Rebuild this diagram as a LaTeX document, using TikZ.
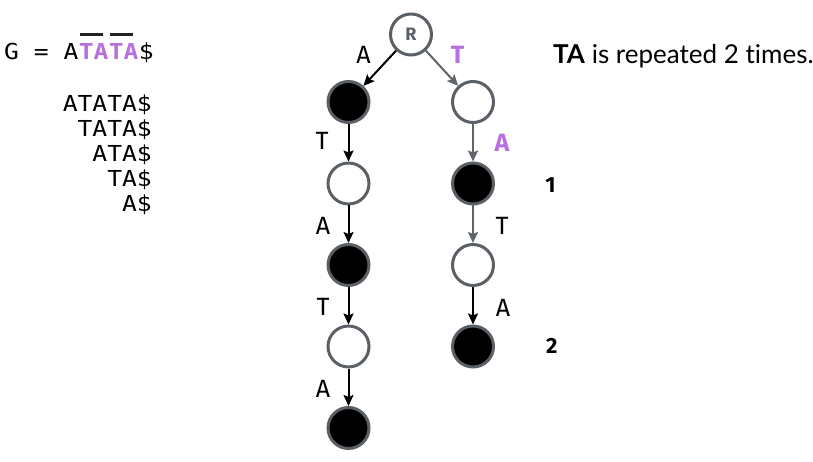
\documentclass[tikz,border=0pt]{standalone}
\usepackage{fontspec}
\setmainfont[Ligatures={NoCommon}]{Lato}
\newfontfamily\monofont[FakeStretch=1.12]{DejaVu Sans Mono}
\newfontfamily\labfont{Fira Sans}
\usetikzlibrary{arrows.meta}
\definecolor{purp}{HTML}{B86FE0}
\definecolor{ring}{HTML}{5B6066}
\definecolor{edgegray}{HTML}{60656B}
\definecolor{barcol}{HTML}{222222}
\begin{document}
\begin{tikzpicture}[x=1bp,y=-1bp,
  st/.style={circle,draw=ring,line width=3bp,minimum size=41bp,inner sep=0},
  full/.style={st,fill=black},
  hollow/.style={st,fill=white},
  arr/.style={line width=2bp,-{Stealth[length=11bp,width=10bp,inset=2bp]}},
  blk/.style={arr,draw=black},
  gry/.style={arr,draw=edgegray},
  lab/.style={font=\labfont\fontsize{25bp}{25bp}\selectfont,inner sep=0},
  plab/.style={lab,font=\labfont\bfseries\fontsize{25bp}{25bp}\selectfont,text=purp},
  num/.style={font=\labfont\bfseries\fontsize{22bp}{22bp}\selectfont,inner sep=0},
  mono/.style={font=\monofont\fontsize{22bp}{22bp}\selectfont,inner sep=0},
  monop/.style={font=\monofont\bfseries\fontsize{22bp}{22bp}\selectfont,inner sep=0,text=purp},
  bar/.style={line width=3bp,draw=barcol}
]
\useasboundingbox (0,0) rectangle (813,462);

% left text
\node[mono,anchor=base west] (g1) at (4,60) {G = A};
\node[monop,anchor=base west] (g2) at (g1.base east) {TA};
\node[monop,anchor=base west] (g3) at (g2.base east) {TA};
\node[mono,anchor=base west] (g4) at (g3.base east) {\$};
\coordinate (b1s) at (80,34.5); \coordinate (b1e) at (103,34.5);
\coordinate (b2s) at (110,34.5); \coordinate (b2e) at (133,34.5);
\draw[bar] (b1s) -- (b1e);
\draw[bar] (b2s) -- (b2e);

\node[mono,anchor=base east] (s1) at (152,112) {ATATA\$};
\node[mono,anchor=base east] (s2) at (152,137) {TATA\$};
\node[mono,anchor=base east] (s3) at (152,162) {ATA\$};
\node[mono,anchor=base east] (s4) at (152,187) {TA\$};
\node[mono,anchor=base east] (s5) at (152,212) {A\$};

% tree
\node[hollow,font=\labfont\bfseries\fontsize{18bp}{18bp}\selectfont,text=ring] (r) at (411,34.5) {R};
\node[full] (l1) at (348.5,102) {};
\node[hollow] (l2) at (348.5,183.5) {};
\node[full] (l3) at (348.5,265) {};
\node[hollow] (l4) at (348.5,346.5) {};
\node[full] (l5) at (348.5,428) {};
\node[hollow] (q1) at (473,102) {};
\node[full] (q2) at (473,183.5) {};
\node[hollow] (q3) at (473,265) {};
\node[full] (q4) at (473,346.5) {};

\draw[blk] (r) -- (l1) node[lab] at (363.5,54.5) {A};
\draw[gry] (r) -- (q1) node[plab] at (457.5,55) {T};
\draw[blk] (l1) -- (l2) node[lab] at (322,140.5) {T};
\draw[blk] (l2) -- (l3) node[lab] at (323,226) {A};
\draw[blk] (l3) -- (l4) node[lab] at (323,306.5) {T};
\draw[blk] (l4) -- (l5) node[lab] at (323,388.5) {A};
\draw[gry] (q1) -- (q2) node[plab] at (502,142.5) {A};
\draw[gry] (q2) -- (q3) node[lab] at (502,226) {T};
\draw[blk] (q3) -- (q4) node[lab] at (503,307.5) {A};

\node[num] (n1) at (550.5,185.3) {1};
\node[num] (n2) at (551.7,346) {2};

\node[anchor=base west,inner sep=0,font=\fontsize{26bp}{26bp}\selectfont] (txt) at (553,63.5) {\textbf{TA} is repeated 2 times.};
\end{tikzpicture}
\end{document}
